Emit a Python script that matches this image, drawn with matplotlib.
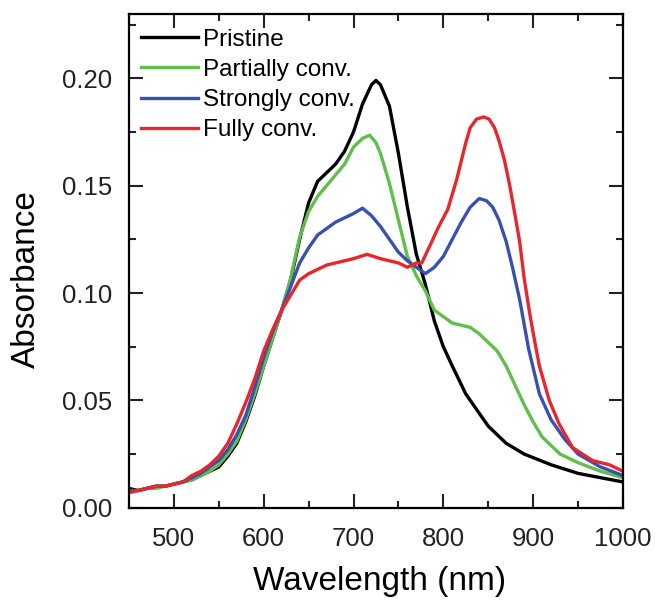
import matplotlib
matplotlib.use("Agg")
import matplotlib.pyplot as plt
from matplotlib.ticker import MultipleLocator

plt.rcParams['font.family'] = ['Liberation Sans', 'DejaVu Sans']

# wavelength grid (nm) and absorbance
wl_pristine = [450, 460, 470, 480, 490, 500, 510, 520, 530, 540, 550, 560, 570, 580, 590,
               600, 610, 620, 630, 640, 650, 660, 670, 680, 690, 700, 710, 720, 725, 730,
               740, 750, 760, 770, 780, 790, 800, 810, 825, 850, 870, 890, 920, 950, 975, 1000]
abs_pristine = [0.009, 0.008, 0.009, 0.010, 0.010, 0.011, 0.012, 0.013, 0.015, 0.017, 0.019, 0.024,
                0.030, 0.040, 0.052, 0.066, 0.079, 0.092, 0.106, 0.125, 0.142, 0.152, 0.156, 0.160,
                0.166, 0.175, 0.188, 0.197, 0.199, 0.197, 0.187, 0.165, 0.140, 0.118, 0.104, 0.087,
                0.075, 0.066, 0.053, 0.038, 0.030, 0.025, 0.020, 0.016, 0.014, 0.012]

wl_partial = [450, 460, 470, 480, 490, 500, 510, 520, 530, 540, 550, 560, 570, 580, 590,
              600, 610, 620, 630, 640, 650, 660, 670, 680, 690, 700, 710, 718, 725, 730,
              740, 750, 760, 770, 780, 790, 800, 810, 820, 830, 840, 850, 860, 870, 880,
              890, 900, 910, 930, 950, 975, 1000]
abs_partial = [0.008, 0.008, 0.009, 0.009, 0.010, 0.011, 0.012, 0.013, 0.015, 0.017, 0.020, 0.025,
               0.031, 0.041, 0.053, 0.066, 0.079, 0.092, 0.107, 0.126, 0.138, 0.145, 0.150, 0.155,
               0.160, 0.168, 0.172, 0.1735, 0.170, 0.165, 0.151, 0.134, 0.117, 0.108, 0.101, 0.092,
               0.089, 0.086, 0.085, 0.084, 0.081, 0.077, 0.073, 0.066, 0.057, 0.048, 0.040, 0.033,
               0.025, 0.021, 0.017, 0.014]

wl_strong = [450, 460, 470, 480, 490, 500, 510, 520, 530, 540, 550, 560, 570, 580, 590,
             600, 610, 620, 630, 640, 650, 660, 670, 680, 690, 700, 710, 720, 730, 740,
             750, 760, 770, 780, 790, 800, 810, 820, 830, 840, 848, 855, 862, 870, 877,
             885, 895, 907, 920, 935, 950, 975, 1000]
abs_strong = [0.008, 0.008, 0.009, 0.010, 0.010, 0.011, 0.012, 0.014, 0.016, 0.019, 0.022, 0.027,
              0.034, 0.043, 0.056, 0.070, 0.082, 0.092, 0.103, 0.114, 0.121, 0.127, 0.130, 0.133,
              0.135, 0.137, 0.1395, 0.136, 0.131, 0.125, 0.119, 0.115, 0.112, 0.109, 0.112, 0.117,
              0.125, 0.133, 0.140, 0.144, 0.143, 0.140, 0.134, 0.124, 0.112, 0.097, 0.074, 0.053,
              0.041, 0.032, 0.025, 0.019, 0.015]

wl_full = [450, 460, 470, 480, 490, 500, 510, 520, 530, 540, 550, 560, 570, 580, 590,
           600, 610, 620, 630, 640, 650, 660, 670, 680, 690, 700, 715, 730, 740, 750,
           760, 770, 776, 785, 795, 805, 815, 825, 830, 837, 845, 851, 857, 862, 868,
           874, 880, 885, 890, 896, 902, 907, 918, 929, 944, 966, 985, 1000]
abs_full = [0.007, 0.008, 0.009, 0.010, 0.010, 0.011, 0.012, 0.015, 0.017, 0.020, 0.024, 0.030,
            0.039, 0.049, 0.060, 0.073, 0.083, 0.092, 0.099, 0.106, 0.109, 0.111, 0.113, 0.114,
            0.115, 0.116, 0.118, 0.116, 0.115, 0.114, 0.112, 0.114, 0.114, 0.122, 0.131, 0.139,
            0.153, 0.170, 0.177, 0.181, 0.182, 0.181, 0.177, 0.171, 0.162, 0.150, 0.136, 0.124,
            0.107, 0.091, 0.077, 0.066, 0.050, 0.039, 0.028, 0.022, 0.020, 0.017]

labels = ['Pristine', 'Partially conv.', 'Strongly conv.', 'Fully conv.']
colors = ['#000000', '#5fbf4a', '#3a50b0', '#e8262b']

fig = plt.figure(figsize=(6.55, 6.03), dpi=100)
ax = fig.add_axes([0.197, 0.158, 0.754, 0.819])

series = [(wl_pristine, abs_pristine), (wl_partial, abs_partial),
          (wl_strong, abs_strong), (wl_full, abs_full)]
for (x, y), lab, c in zip(series, labels, colors):
    ax.plot(x, y, color=c, lw=2.4, label=lab)

ax.set_xlim(450, 1000)
ax.set_ylim(0, 0.23)
ax.xaxis.set_major_locator(MultipleLocator(100))
ax.xaxis.set_minor_locator(MultipleLocator(50))
ax.yaxis.set_major_locator(MultipleLocator(0.05))
ax.yaxis.set_minor_locator(MultipleLocator(0.025))
ax.yaxis.set_major_formatter(plt.FormatStrFormatter('%.2f'))

ax.tick_params(which='both', direction='in', top=True, right=True, width=1.5, colors='#222222')
ax.tick_params(which='major', length=10, labelsize=18.5)
ax.tick_params(which='minor', length=5)
ax.tick_params(axis='x', pad=14)
ax.tick_params(axis='y', pad=12)
for s in ax.spines.values():
    s.set_linewidth(1.6)

ax.set_xlabel('Wavelength (nm)', fontsize=24)
ax.set_ylabel('Absorbance', fontsize=24)
ax.xaxis.set_label_coords(0.508, -0.118)
ax.yaxis.set_label_coords(-0.176, 0.464)

ax.legend(loc='upper left', bbox_to_anchor=(0.0, 0.995), frameon=False, fontsize=17.5,
          handlelength=2.35, handletextpad=0.2, labelspacing=0.34, borderpad=0.3,
          borderaxespad=0.2)

fig.savefig('out.png', dpi=100)
